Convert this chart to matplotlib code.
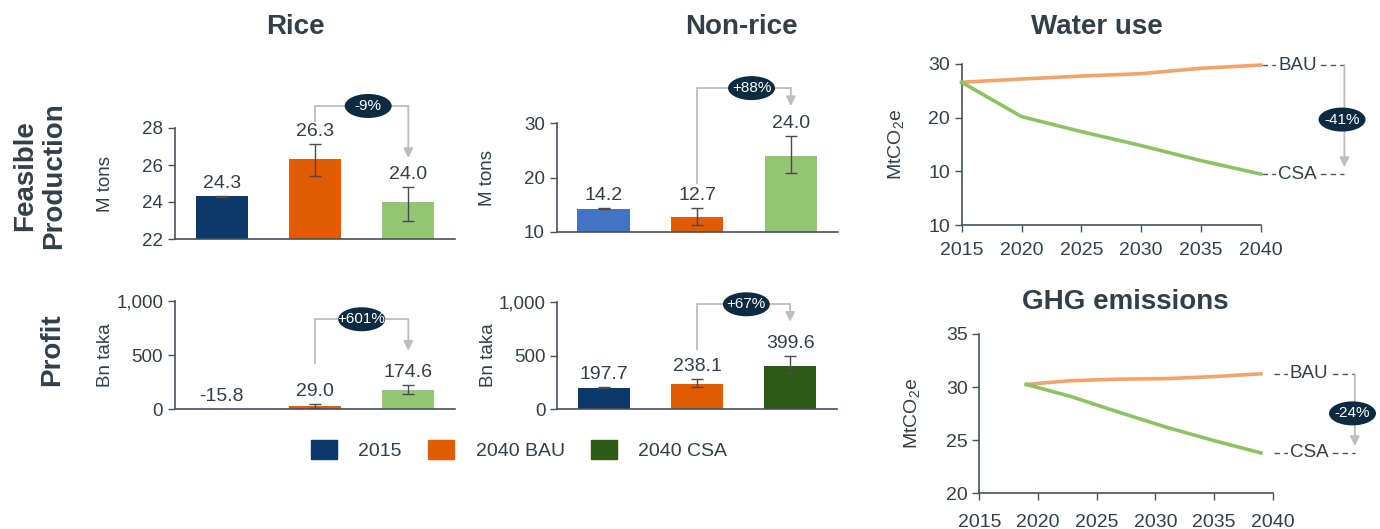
import numpy as np
import matplotlib
matplotlib.use('Agg')
import matplotlib.pyplot as plt
from matplotlib.patches import Patch, Ellipse
from matplotlib.transforms import ScaledTranslation

plt.rcParams['font.family'] = ['Liberation Sans', 'DejaVu Sans']
plt.rcParams['mathtext.fontset'] = 'custom'
plt.rcParams['mathtext.rm'] = 'Liberation Sans'
plt.rcParams['mathtext.it'] = 'Liberation Sans:italic'
plt.rcParams['mathtext.default'] = 'rm'

# ---- datos ----
escenarios = ['2015', '2040 BAU', '2040 CSA']

rice_prod = [24.3, 26.3, 24.0]
rice_prod_lo = [24.28, 25.4, 23.0]
rice_prod_hi = [24.32, 27.15, 24.8]
rice_prod_lab = ['24.3', '26.3', '24.0']

nonrice_prod = [14.2, 12.7, 24.0]
nonrice_prod_lo = [14.15, 11.3, 20.9]
nonrice_prod_hi = [14.35, 14.35, 27.7]
nonrice_prod_lab = ['14.2', '12.7', '24.0']

rice_profit = [-15.8, 29.0, 174.6]
rice_profit_lo = [np.nan, 9, 138]
rice_profit_hi = [np.nan, 46, 224]
rice_profit_lab = ['-15.8', '29.0', '174.6']

nonrice_profit = [197.7, 238.1, 399.6]
nonrice_profit_lo = [195, 209, 338]
nonrice_profit_hi = [209, 280, 491]
nonrice_profit_lab = ['197.7', '238.1', '399.6']

water_years = [2015, 2020, 2025, 2030, 2035, 2040]
water_bau = [26.6, 27.2, 27.75, 28.2, 29.2, 29.8]
water_csa = [26.6, 20.2, 17.4, 14.8, 12.0, 9.5]

ghg_years = [2019, 2022.7, 2027, 2031, 2035.2, 2039]
ghg_bau = [30.25, 30.6, 30.75, 30.8, 31.0, 31.25]
ghg_csa = [30.25, 29.15, 27.6, 26.2, 24.9, 23.8]

# ---- colores ----
navy = '#0b3a6a'
orange = '#e15b00'
lightgreen = '#93c572'
blue = '#4472c4'
darkgreen = '#2e5a15'
line_orange = '#f2a46b'
line_green = '#8dc263'
txt = '#333f48'
axc = '#47525c'
gris = '#bdbdbd'
oval = '#0d2b40'

W, H = 1380, 529
fig = plt.figure(figsize=(W / 100, H / 100), dpi=100)


def caja(left, top, right, bottom):
    return [left / W, 1 - bottom / H, (right - left) / W, (bottom - top) / H]


def estilo(ax):
    for s in ['top', 'right']:
        ax.spines[s].set_visible(False)
    for s in ['left', 'bottom']:
        ax.spines[s].set_color(axc)
        ax.spines[s].set_linewidth(1.2)
    ax.tick_params(colors=axc, labelcolor=txt, labelsize=13.5, length=5, width=1)


def ovalo(ax, x, y, texto):
    tr = fig.dpi_scale_trans + ScaledTranslation(x, y, ax.transData)
    ax.add_artist(Ellipse((0, 0), 0.47, 0.24, transform=tr, facecolor=oval,
                          edgecolor='none', zorder=6, clip_on=False))
    ax.text(x, y, texto, ha='center', va='center', color='white', fontsize=11,
            zorder=7, clip_on=False)


def flecha(ax, x0, x1, y0, ytop, ytip, texto, xe):
    ax.plot([x0, x0, x1], [y0, ytop, ytop], color=gris, lw=1.3, clip_on=False)
    ax.annotate('', xy=(x1, ytip), xytext=(x1, ytop),
                arrowprops=dict(arrowstyle='-|>', color=gris, lw=1.3, mutation_scale=14,
                                shrinkA=0, shrinkB=0), annotation_clip=False)
    ovalo(ax, xe, ytop, texto)


def barras(ax, vals, lo, hi, etiquetas, colores, ylim, yticks, yticklabels, ylabel):
    x = np.arange(len(vals))
    vals = np.array(vals, dtype=float)
    lo = np.array(lo, dtype=float)
    hi = np.array(hi, dtype=float)
    ax.bar(x, vals, width=0.56, color=colores, zorder=2)
    ax.errorbar(x, vals, yerr=[vals - lo, hi - vals], fmt='none', ecolor='#4a4a4a',
                elinewidth=1, capsize=4.5, capthick=1, zorder=3)
    tops = np.nanmax(np.vstack([hi, vals, np.zeros_like(vals)]), axis=0)
    for xi, t, lab in zip(x, tops, etiquetas):
        ax.annotate(lab, (xi, t), xytext=(0, 9), textcoords='offset points', ha='center',
                    va='center', fontsize=14, color=txt, annotation_clip=False)
    ax.set_xlim(-0.5, 2.5)
    ax.set_ylim(*ylim)
    ax.set_yticks(yticks)
    ax.set_yticklabels(yticklabels)
    ax.set_xticks([])
    estilo(ax)
    ax.spines['bottom'].set_zorder(4)
    ax.set_ylabel(ylabel, fontsize=13.5, color=txt)
    ax.yaxis.set_label_coords(-0.217, 0.5)


def lineas(ax, anios, bau, csa, ylim, yticks, yticklabels, caida, xpad, ylab_x):
    ax.plot(anios, bau, color=line_orange, lw=2.6, clip_on=False, zorder=3)
    ax.plot(anios, csa, color=line_green, lw=2.6, clip_on=False, zorder=3)
    for yv, lab in [(bau[-1], 'BAU'), (csa[-1], 'CSA')]:
        ax.plot([2040.1, 2047], [yv, yv], color='#555555', lw=1, ls=(0, (4, 3)), clip_on=False)
        ax.text(2043.1, yv, lab, ha='center', va='center', fontsize=13.5, color=txt,
                bbox=dict(fc='white', ec='none', pad=1.5), clip_on=False, zorder=4)
    ax.annotate('', xy=(2047, csa[-1]), xytext=(2047, bau[-1]),
                arrowprops=dict(arrowstyle='-|>', color=gris, lw=1.3, mutation_scale=14,
                                shrinkA=0, shrinkB=5), annotation_clip=False)
    ovalo(ax, 2046.8, (bau[-1] + csa[-1]) / 2, caida)
    ax.set_xlim(2015, 2040)
    ax.set_xticks([2015, 2020, 2025, 2030, 2035, 2040])
    ax.set_ylim(*ylim)
    ax.set_yticks(yticks)
    ax.set_yticklabels(yticklabels)
    estilo(ax)
    ax.tick_params(labelsize=14)
    ax.tick_params(axis='x', pad=xpad)
    ax.set_ylabel('MtCO$_2$e', fontsize=14, color=txt)
    ax.yaxis.set_label_coords(ylab_x, 0.5)


# ---- Rice production ----
ax1 = fig.add_axes(caja(175, 128, 455, 239))
barras(ax1, rice_prod, rice_prod_lo, rice_prod_hi, rice_prod_lab, [navy, orange, lightgreen],
       (22, 28), [22, 24, 26, 28], ['22', '24', '26', '28'], 'M tons')
flecha(ax1, 1, 2, 28.38, 29.19, 26.38, '-9%', 1.57)

# ---- Non-rice production ----
ax2 = fig.add_axes(caja(556.7, 123, 837.7, 232))
barras(ax2, nonrice_prod, nonrice_prod_lo, nonrice_prod_hi, nonrice_prod_lab,
       [blue, orange, lightgreen], (10, 30), [10, 20, 30], ['10', '20', '30'], 'M tons')
flecha(ax2, 1, 2, 19.05, 36.4, 33.1, '+88%', 1.58)

# ---- Rice profit ----
ax3 = fig.add_axes(caja(175, 300.7, 455, 409.3))
barras(ax3, rice_profit, rice_profit_lo, rice_profit_hi, rice_profit_lab,
       [navy, orange, lightgreen], (0, 1000), [0, 500, 1000], ['0', '500', '1,000'], 'Bn taka')
flecha(ax3, 1, 2, 424, 829, 540, '+601%', 1.5)

# ---- Non-rice profit ----
ax4 = fig.add_axes(caja(557.3, 301.7, 836.7, 409.3))
barras(ax4, nonrice_profit, nonrice_profit_lo, nonrice_profit_hi, nonrice_profit_lab,
       [navy, orange, darkgreen], (0, 1000), [0, 500, 1000], ['0', '500', '1,000'], 'Bn taka')
flecha(ax4, 1, 2, 558, 976, 814, '+67%', 1.53)

# ---- Water use ----
ax5 = fig.add_axes(caja(961.7, 64, 1260.7, 225))
lineas(ax5, water_years, water_bau, water_csa, (0, 30), [0, 10, 20, 30],
       ['10', '10', '20', '30'], '-41%', 7, -0.187)

# ---- GHG emissions ----
ax6 = fig.add_axes(caja(979.3, 334, 1272.7, 493.3))
lineas(ax6, ghg_years, ghg_bau, ghg_csa, (20, 35), [20, 25, 30, 35],
       ['20', '25', '30', '35'], '-24%', 10, -0.196)

# ---- titulos ----
for x, y, t in [(295, 27, 'Rice'), (741.7, 27, 'Non-rice'), (1096.7, 27, 'Water use'),
                (1125, 301.7, 'GHG emissions')]:
    fig.text(x / W, 1 - y / H, t, ha='center', va='center', fontsize=20,
             fontweight='bold', color=txt)

fig.text(40 / W, 1 - 176 / H, 'Feasible\nProduction', rotation=90, ha='center', va='center',
         multialignment='center', fontsize=20, fontweight='bold', color=txt, linespacing=1.15)
fig.text(52 / W, 1 - 350 / H, 'Profit', rotation=90, ha='center', va='center',
         fontsize=20, fontweight='bold', color=txt)

# ---- leyenda ----
handles = [Patch(color=c) for c in [navy, orange, darkgreen]]
leg = fig.legend(handles, escenarios, loc='center', bbox_to_anchor=(519 / W, 1 - 450 / H),
                 ncol=3, frameon=False, fontsize=14, handlelength=1.35, handleheight=1.1,
                 handletextpad=1.1, columnspacing=1.35)
for t in leg.get_texts():
    t.set_color(txt)

fig.savefig('out.png', dpi=100)
